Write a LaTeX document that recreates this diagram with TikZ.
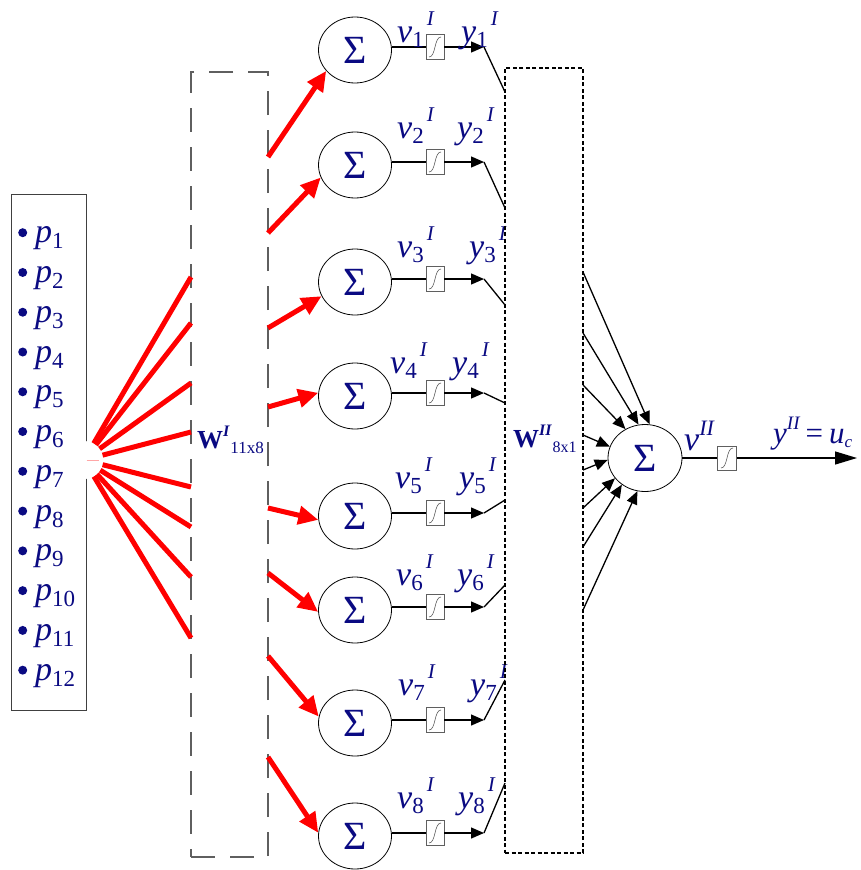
\documentclass[tikz,border=0pt]{standalone}
\usepackage{fontspec}
\setmainfont{Liberation Serif}
\usetikzlibrary{arrows.meta,shapes.geometric,calc}
\definecolor{navy}{RGB}{10,10,130}
\definecolor{boxgray}{RGB}{95,95,95}
\newcommand\pl[1]{{\itshape p}\raisebox{-6pt}{\fontsize{23}{23}\selectfont #1}}
\newcommand\lay[2]{{\itshape #1}\raisebox{-5pt}{\fontsize{23}{23}\selectfont #2}\kern3pt\raisebox{17pt}{\fontsize{21}{21}\selectfont\itshape I}}
\tikzset{
  lab/.style={anchor=base west, inner sep=0pt, text=navy, font=\fontsize{34}{34}\selectfont},
  sig/.style={ellipse, draw, line width=0.8pt, minimum width=73pt, minimum height=66pt, inner sep=0pt, text=navy, font=\fontsize{40}{40}\selectfont},
  sg/.style={rectangle, draw=boxgray, line width=0.9pt, fill=white, minimum width=18pt, minimum height=25pt, inner sep=0pt,
    path picture={\draw[line width=0.6pt] ($(path picture bounding box.center)+(-6pt,-10pt)$) .. controls +(7pt,0pt) and +(-7pt,0pt) .. ($(path picture bounding box.center)+(6pt,10pt)$);}},
  redline/.style={draw=red, line width=5pt},
  redarrow/.style={draw=red, line width=5pt, -{Triangle[length=20pt,width=18pt]}},
  wire/.style={line width=1.3pt},
  blk/.style={line width=1.3pt, -{Triangle[length=13pt,width=11pt]}},
}
\begin{document}
\begin{tikzpicture}[x=1pt,y=-1pt]
\useasboundingbox (0,0) rectangle (860,870);
% input box
\node[draw=black!75, line width=1pt, minimum width=75pt, minimum height=516pt, inner sep=0pt] (inbox) at (48.5,452) {};
\foreach \i in {1,...,12}{
  \pgfmathsetmacro\yy{232.7+39.77*(\i-1)}
  \node[circle, fill=navy, minimum size=9pt, inner sep=0pt] (pb\i) at (22.7,\yy) {};
  \node[lab, font=\fontsize{34}{34}\selectfont] (p\i) at (35,\yy+10) {\pl{\i}};
}
\node[circle, fill=white, minimum size=38pt, inner sep=0pt] (hub) at (84,460) {};
\draw[red!35, line width=0.6pt] (inbox.east |- hub) -- ++(12,0);
% W^I box
\node[draw=boxgray, dash pattern=on 24pt off 15pt, line width=1.5pt, minimum width=77pt, minimum height=785pt, inner sep=0pt] (wone) at (229.5,464.5) {};
\node[anchor=base west, inner sep=0pt, text=navy, font=\fontsize{26}{26}\selectfont] (wonelab) at (197,448)
  {\textbf{W}\raisebox{12pt}{\fontsize{16}{16}\selectfont\bfseries\itshape I}\kern1pt\raisebox{-5pt}{\fontsize{17}{17}\selectfont 11x8}};
% red lines into W^I
\foreach \i/\y in {1/277,2/323,3/383,4/432,5/487,6/527,7/577,8/638}{
  \coordinate (a\i) at (191,\y);
  \draw[redline] (hub) -- (a\i);
}
% hidden-layer neurons
\foreach \i/\c in {1/50,2/165,3/282,4/396,5/516,6/610,7/723,8/836}{
  \node[sig] (s\i) at (355,\c) {Σ};
  \node[sg] (g\i) at (435,\c-3) {};
  \coordinate (t\i) at (484,\c-3);
  \draw[wire] (s\i.east |- g\i) -- (g\i.west);
  \draw[blk] (g\i.east) -- (t\i);
}
% red arrows from W^I to neurons
\foreach \i/\y/\ang in {1/157/216,2/233/200,3/328/203,4/407/175,5/508/186,6/573/183,7/656/170,8/757/175}{
  \coordinate (b\i) at (268,\y);
  \draw[redarrow] (b\i) -- (s\i.\ang);
}
% labels v_i^I and y_i^I
\foreach \i/\vx/\yx/\bl in {1/397/461/42,2/397/457/138,3/397/469/257,4/390/452/373,5/395/459/488,6/396/457/585,7/398/470/695,8/397/458/808}{
  \node[lab] (vl\i) at (\vx,\bl) {\lay{v}{\i}};
  \node[lab] (yl\i) at (\yx,\bl) {\lay{y}{\i}};
}
% W^II box
\node[draw=black, dash pattern=on 4pt off 2.5pt, line width=1.3pt, minimum width=78pt, minimum height=785pt, inner sep=0pt] (wtwo) at (544,460.5) {};
\node[anchor=base west, inner sep=0pt, text=navy, font=\fontsize{26}{26}\selectfont] (wtwolab) at (513,447)
  {\textbf{W}\raisebox{12pt}{\fontsize{16}{16}\selectfont\bfseries\itshape II}\kern1pt\raisebox{-5pt}{\fontsize{16}{16}\selectfont 8x1}};
\foreach \i/\y in {1/92,2/208,3/305,4/403,5/500,6/585,7/680,8/783}{
  \coordinate (e\i) at (505,\y);
  \draw[wire] (t\i) -- (e\i);
}
% output neuron
\node[sig, minimum width=74pt, minimum height=67pt] (out) at (645,458) {Σ};
\foreach \i/\y/\ang in {1/272/82,2/333/101,3/385/124,4/435/162,5/470/183,6/508/214,7/547/229,8/610/257}{
  \coordinate (o\i) at (583,\y);
  \draw[blk] (o\i) -- (out.\ang);
}
\node[sg, minimum width=19pt, minimum height=24pt] (go) at (727,458) {};
\coordinate (fin) at (857,458);
\draw[wire] (out.east |- go) -- (go.west);
\draw[line width=1.3pt, -{Triangle[length=22pt,width=13pt]}] (go.east) -- (fin);
\node[lab] (vout) at (684,450) {{\itshape v}\raisebox{15pt}{\fontsize{22}{22}\selectfont\itshape II}};
\node[lab, font=\fontsize{31}{31}\selectfont] (yout) at (773,443) {{\itshape y}\raisebox{14pt}{\fontsize{19}{19}\selectfont\itshape II}\kern6pt=\kern6pt{\itshape u}\raisebox{-4pt}{\fontsize{17}{17}\selectfont\itshape c}};
\end{tikzpicture}
\end{document}
